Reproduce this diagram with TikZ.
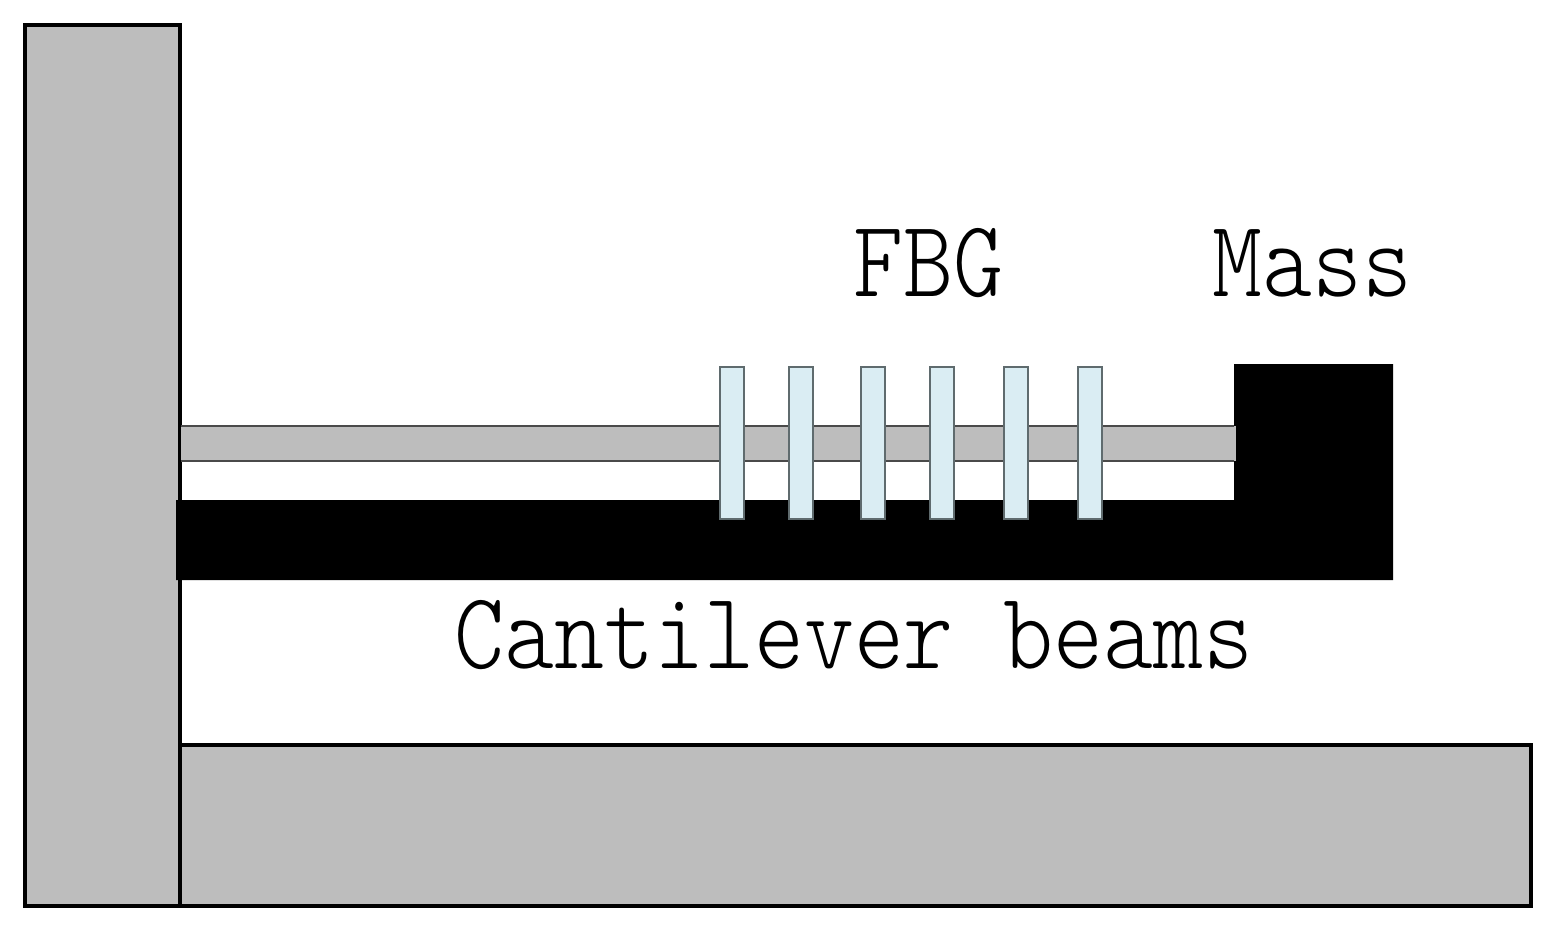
\documentclass[tikz,border=0pt]{standalone}
\usepackage{tikz}
\usepackage{xcolor}
\definecolor{rigGray}{HTML}{BDBDBD}
\definecolor{rigEdge}{HTML}{4A4A4A}
\definecolor{fbgBlue}{HTML}{DAEDF3}
\definecolor{fbgEdge}{HTML}{5F6B6E}

\begin{document}
\begin{tikzpicture}[
  x=0.02cm, y=-0.02cm,
  frm/.style={draw=black, fill=rigGray, line width=2.2pt, line join=miter},
  bar/.style={draw=fbgEdge, fill=fbgBlue, line width=1.4pt},
  lbl/.style={font=\fontsize{54.2}{62}\selectfont\ttfamily\fontseries{l}\selectfont, text=black,
              anchor=base, inner sep=0pt, transform shape, yscale=1.15},
]
\useasboundingbox (0,0) rectangle (1553,944);

% ======================= support ========================================
\draw[frm] (180,745) rectangle (1531,906);
\draw[frm] (25,25) rectangle (180,906);

% ======================= beams and mass =================================
\fill[black] (176,500) -- (1234,500) -- (1234,364) -- (1393,364)
  -- (1393,580) -- (176,580) -- cycle;
\fill[rigGray] (181,426) rectangle (1236,461);
\draw[rigEdge, line width=1.6pt] (181,426) -- (1234,426);
\draw[rigEdge, line width=1.6pt] (181,461) -- (1234,461);

% ======================= gratings =======================================
\foreach \x in {720, 789, 861, 930, 1004, 1078} {
  \draw[bar] (\x,367) rectangle ++(24,152);
}

% ======================= labels =========================================
\node[lbl] (fbg) at (928,296) {FBG};
\node[lbl] (mass) at (1312,296) {Mass};
\node[lbl] (beams) at (854,668) {Cantilever beams};
\end{tikzpicture}
\end{document}
